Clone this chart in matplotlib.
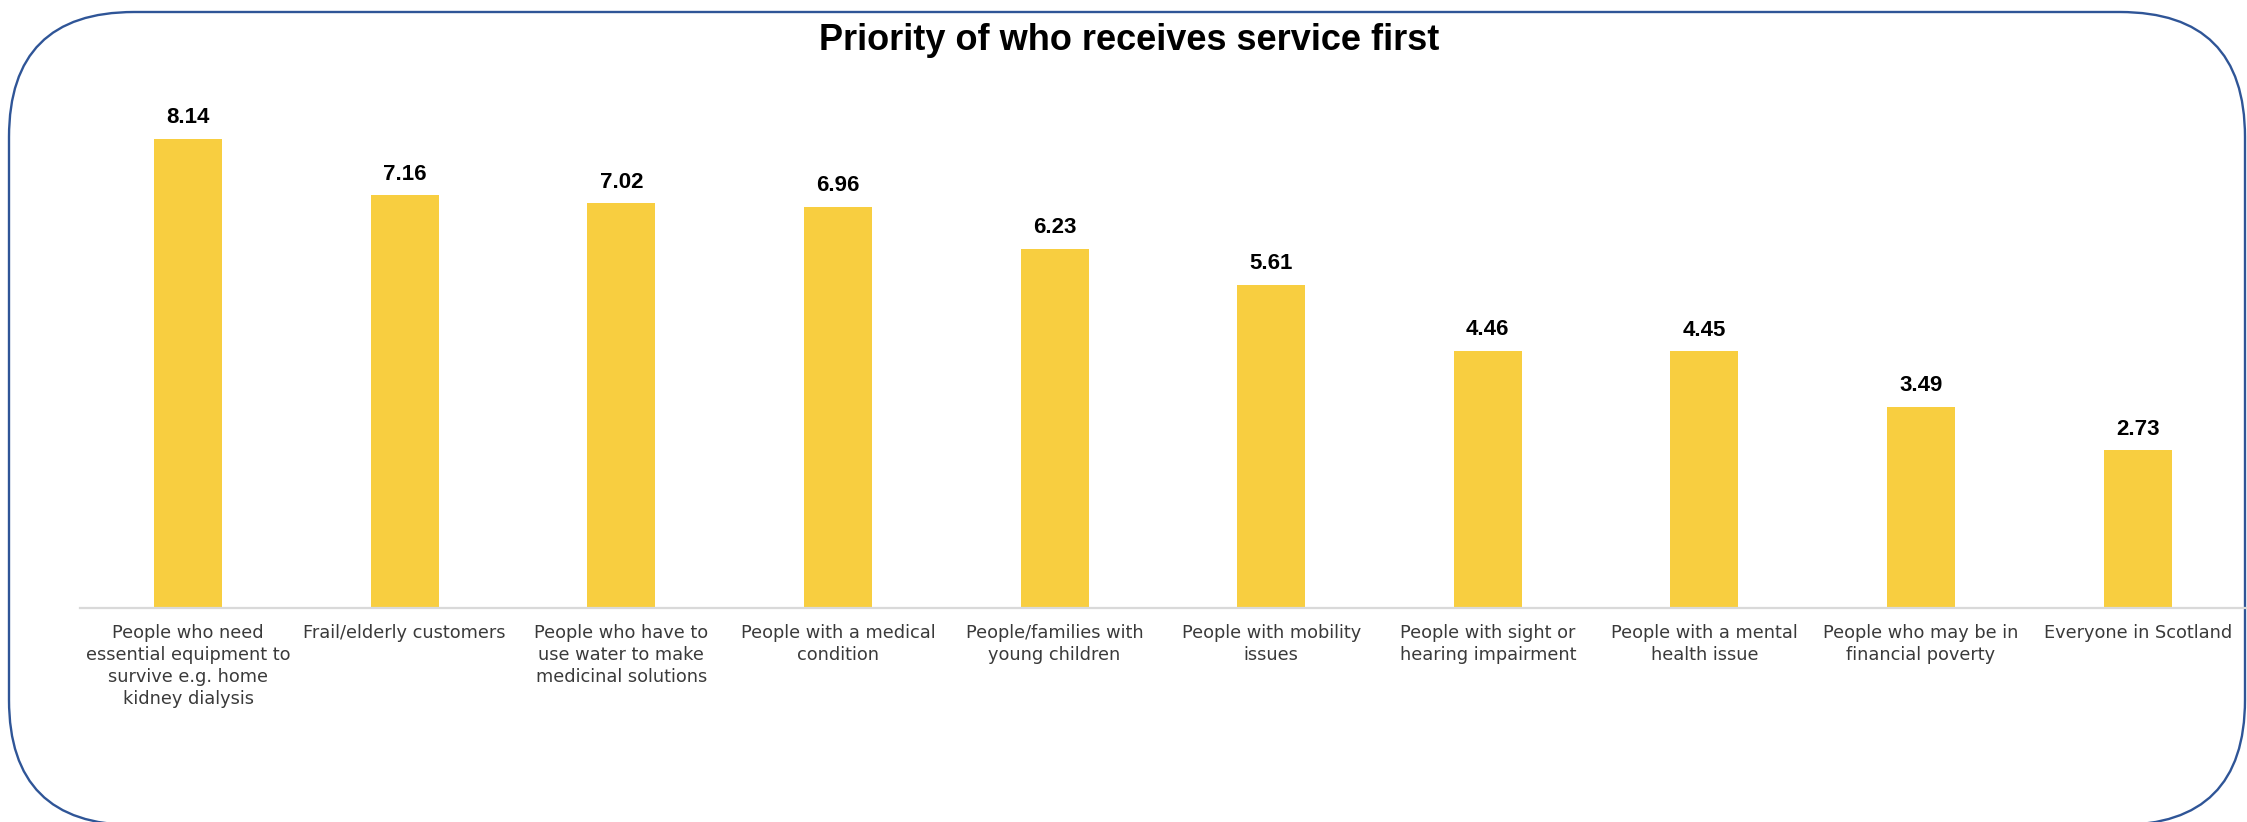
import matplotlib
matplotlib.use("Agg")
import matplotlib.pyplot as plt
from matplotlib.patches import FancyBboxPatch

categories = [
    "People who need\nessential equipment to\nsurvive e.g. home\nkidney dialysis",
    "Frail/elderly customers",
    "People who have to\nuse water to make\nmedicinal solutions",
    "People with a medical\ncondition",
    "People/families with\nyoung children",
    "People with mobility\nissues",
    "People with sight or\nhearing impairment",
    "People with a mental\nhealth issue",
    "People who may be in\nfinancial poverty",
    "Everyone in Scotland",
]
scores = [8.14, 7.16, 7.02, 6.96, 6.23, 5.61, 4.46, 4.45, 3.49, 2.73]

W, H = 2247, 822
BAR_COLOR = "#F8CE40"
BORDER = "#2F5597"

fig = plt.figure(figsize=(W / 100, H / 100), dpi=100, facecolor="white")

# rounded frame drawn in pixel space (y up), runs off the bottom edge
bg = fig.add_axes([0, 0, 1, 1])
bg.set_xlim(0, W)
bg.set_ylim(0, H)
bg.axis("off")
frame = FancyBboxPatch((9, -3), 2236, H - 12 + 3, boxstyle="round,pad=0,rounding_size=125",
                       fc="none", ec=BORDER, lw=1.7, clip_on=False)
bg.add_patch(frame)

# main chart
left, right = 79.7, 2246
base, top_px, ymax = 607.7, 89.3, 9.0
ax = fig.add_axes([left / W, 1 - base / H, (right - left) / W, (base - top_px) / H])
ax.set_facecolor("none")
x = list(range(len(scores)))
ax.bar(x, scores, width=0.314, color=BAR_COLOR, zorder=2)
ax.set_xlim(-0.5, len(scores) - 0.5)
ax.set_ylim(0, ymax)

for i, v in zip(x, scores):
    ax.annotate(f"{v:.2f}", (i, v), xytext=(0, 11.3), textcoords="offset points",
                ha="center", va="baseline", fontsize=16, fontweight="bold",
                family=["Liberation Sans", "DejaVu Sans"], color="black")

for s in ["top", "left", "right"]:
    ax.spines[s].set_visible(False)
ax.spines["bottom"].set_color("#D9D9D9")
ax.spines["bottom"].set_linewidth(1.6)
ax.set_yticks([])
ax.set_xticks(x)
ax.set_xticklabels(categories, fontsize=12.8, color="#3A3A3A", linespacing=1.27,
                   family="DejaVu Sans")
ax.tick_params(axis="x", length=0, pad=12)

fig.text(1129 / W, 1 - 50 / H, "Priority of who receives service first",
         ha="center", va="baseline", fontsize=26, fontweight="bold",
         family=["Liberation Sans Narrow", "Liberation Sans", "DejaVu Sans"], color="black")

fig.savefig("out.png", dpi=100)
